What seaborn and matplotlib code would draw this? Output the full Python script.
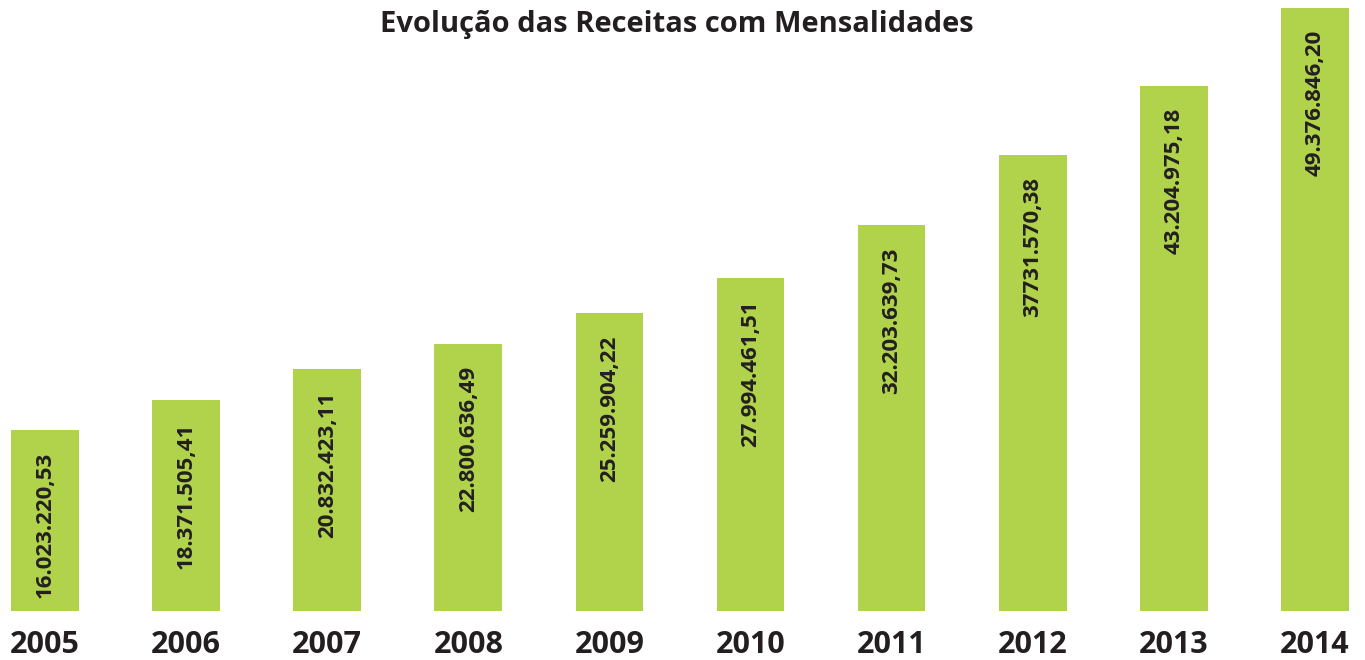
import matplotlib
matplotlib.use("Agg")
import matplotlib.pyplot as plt
import seaborn as sns
import pandas as pd

years = ["2005", "2006", "2007", "2008", "2009", "2010", "2011", "2012", "2013", "2014"]
values = [16023220.53, 18371505.41, 20832423.11, 22800636.49, 25259904.22,
          27994461.51, 32203639.73, 37731570.38, 43204975.18, 49376846.20]
labels = ["16.023.220,53", "18.371.505,41", "20.832.423,11", "22.800.636,49", "25.259.904,22",
          "27.994.461,51", "32.203.639,73", "37731.570,38", "43.204.975,18", "49.376.846,20"]

sns.set_theme(style="white")
plt.rcParams['font.family'] = ['Open Sans', 'DejaVu Sans']

BAR = "#b1d34b"
TXT = "#231f20"

df = pd.DataFrame({"ano": years, "valor": values})
fig = plt.figure(figsize=(13.65, 6.6), dpi=100)
ax = fig.add_axes([0, 49/660, 1, 611/660 - 0.0])
sns.barplot(data=df, x="ano", y="valor", color=BAR, width=0.48, saturation=1, ax=ax)
for p in ax.patches:
    p.set_edgecolor("none")

ax.set_xlim(-0.319, 9.355)
ax.set_ylim(1.71e6, 50.0e6)
for s in ax.spines.values():
    s.set_visible(False)
ax.set_yticks([])
ax.set_xlabel("")
ax.set_ylabel("")
ax.tick_params(axis="x", length=0, pad=14)
for t in ax.get_xticklabels():
    t.set_fontsize(22)
    t.set_fontweight("bold")
    t.set_color(TXT)

for i, (v, lab) in enumerate(zip(values, labels)):
    ax.annotate(lab, xy=(i, v), xytext=(0, -16), textcoords="offset points",
                rotation=90, ha="center", va="top", fontsize=16, fontweight="bold",
                color=TXT)

fig.text(0.496, 0.985, "Evolução das Receitas com Mensalidades", ha="center", va="top",
         fontsize=21, fontweight="bold", color=TXT)

fig.savefig("out.png", dpi=100)
